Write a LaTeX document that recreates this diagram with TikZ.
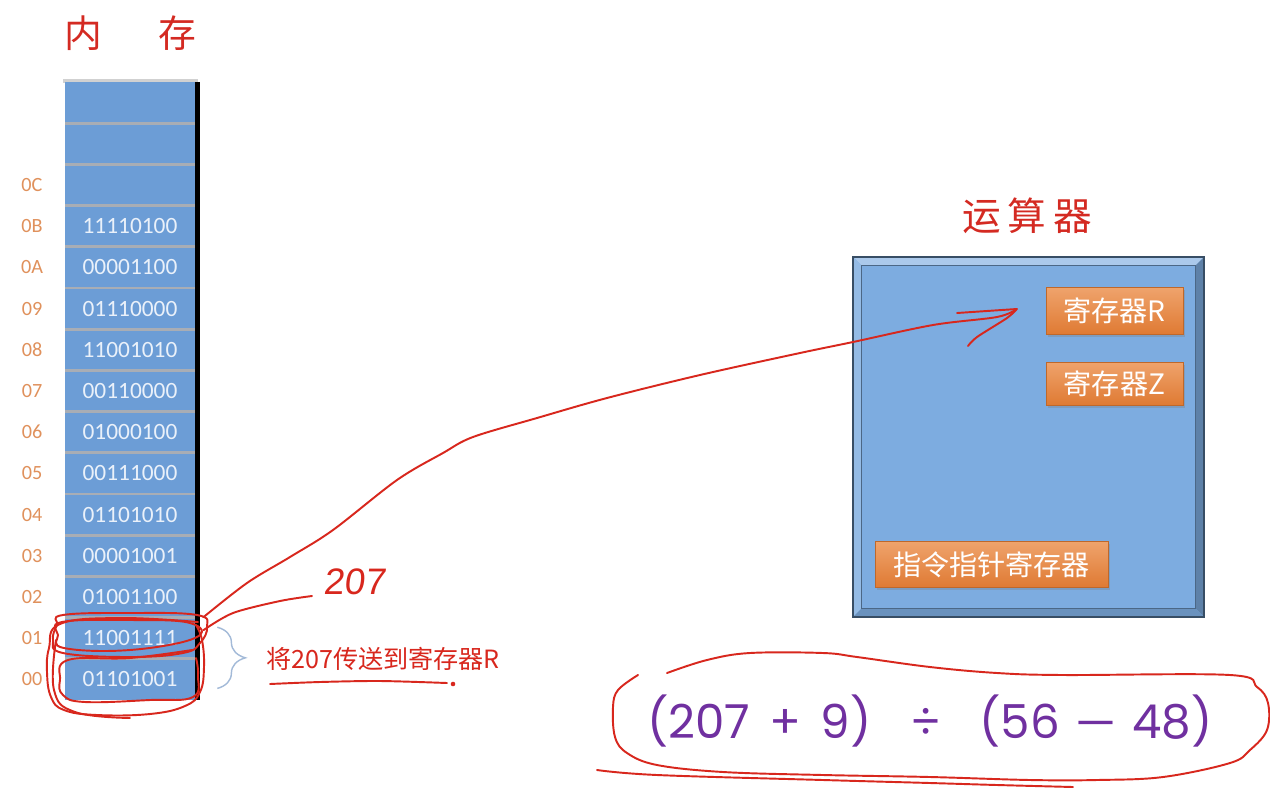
\documentclass[tikz,border=0pt]{standalone}
\usepackage{fontspec}
\setmainfont{Carlito}
\newfontfamily\cjk{Noto Sans CJK SC}
\newfontfamily\cjksp{Noto Sans CJK SC}[LetterSpace=18]
\newfontfamily\formulafont{Poppins}
\newfontfamily\minusfont{Liberation Sans}
\newfontfamily\handfont{Liberation Sans}[FakeSlant=0.12]
\usetikzlibrary{calc,shadows,decorations.pathreplacing}
\definecolor{cellblue}{HTML}{6C9DD6}
\definecolor{celltext}{HTML}{EAF1FA}
\definecolor{alublue}{HTML}{7DACE0}
\definecolor{addrcol}{HTML}{E0915C}
\definecolor{handred}{HTML}{D8271D}
\definecolor{titlered}{HTML}{D42A22}
\definecolor{regtop}{HTML}{EFA36C}
\definecolor{regbot}{HTML}{DF7A33}
\definecolor{formulapurple}{HTML}{7030A0}
\definecolor{bracecol}{HTML}{A3BAD8}
\definecolor{sepgrey}{HTML}{A8ADB5}
\tikzset{
  cellbox/.style={rectangle, fill=cellblue, minimum width=2.6cm, minimum height=0.824cm,
    inner sep=0pt, text=celltext, font=\fontsize{13.3}{14}\selectfont},
  addrlabel/.style={inner sep=0pt, text=addrcol, font=\fontsize{11.5}{12}\selectfont},
  regbox/.style={rectangle, top color=regtop, bottom color=regbot, draw=regbot!85!black,
    line width=0.3pt, drop shadow={opacity=0.35, shadow xshift=1pt, shadow yshift=-1.5pt},
    text=white, font=\cjk\fontsize{16}{18}\selectfont, inner sep=0pt},
  handline/.style={draw=handred, line width=1.1pt, line cap=round, line join=round},
  titletext/.style={text=titlered, inner sep=0pt},
}
\begin{document}
\begin{tikzpicture}[x=0.02cm, y=-0.02cm]
\useasboundingbox (0,0) rectangle (1270,788);
\fill[white] (0,0) rectangle (1270,788);

% ---------- memory ----------
\node[titletext, font=\cjk\fontsize{21.5}{24}\selectfont] (memtitle) at (130,33) {内\hspace{32pt}存};
\fill[black!18] (63,79) rectangle (198,83);
\foreach \r/\v/\a in {0/01101001/00, 1/11001111/01, 2/01001100/02, 3/00001001/03,
  4/01101010/04, 5/00111000/05, 6/01000100/06, 7/00110000/07, 8/11001010/08,
  9/01110000/09, 10/00001100/0A, 11/11110100/0B, 12//0C}{
  \node[cellbox] (m\r) at (130,{700-41.2*(\r+0.5)}) {\v};
  \node[addrlabel] (a\r) at (32,{700-41.2*(\r+0.5)}) {\a};
}
\foreach \r in {13,14}{
  \node[cellbox] (m\r) at (130,{700-41.2*(\r+0.5)}) {};
}
\foreach \k in {1,...,14}{
  \draw[sepgrey, line width=1.6pt] (65,{700-41.2*\k}) -- (195,{700-41.2*\k});
}
\fill[black] (m14.north east) rectangle ($(m0.south east)+(5,0)$);

% ---------- ALU ----------
\node[titletext, font=\cjksp\fontsize{22}{24}\selectfont] (alutitle) at (1027,216) {运算器};
\node[rectangle, fill=alublue, minimum width=7.02cm, minimum height=7.2cm, inner sep=0pt] (alu) at (1028.5,437) {};
\fill[alublue!65!white] (alu.north west) -- (alu.north east) -- ($(alu.north east)+(-9,9)$) -- ($(alu.north west)+(9,9)$) -- cycle;
\fill[alublue!82!white] (alu.north west) -- (alu.south west) -- ($(alu.south west)+(9,-9)$) -- ($(alu.north west)+(9,9)$) -- cycle;
\fill[alublue!75!black] (alu.north east) -- (alu.south east) -- ($(alu.south east)+(-9,-9)$) -- ($(alu.north east)+(-9,9)$) -- cycle;
\fill[alublue!85!black] (alu.south west) -- (alu.south east) -- ($(alu.south east)+(-9,-9)$) -- ($(alu.south west)+(9,-9)$) -- cycle;
\draw[alublue!60!black, line width=0.4pt] ($(alu.north west)+(9,9)$) rectangle ($(alu.south east)+(-9,-9)$);
\draw[alublue!45!black, line width=1pt] (alu.north west) rectangle (alu.south east);

\node[regbox, minimum width=2.74cm, minimum height=0.94cm] (regR) at (1114.5,311) {寄存器R};
\node[regbox, minimum width=2.74cm, minimum height=0.86cm] (regZ) at (1114.5,383.5) {寄存器Z};
\node[regbox, minimum width=4.66cm, minimum height=0.92cm] (ip) at (991.5,564.5) {指令指针寄存器};

% ---------- annotation ----------
\coordinate (bracetop) at ($(m1.east)+(22,-11)$);
\coordinate (bracebot) at ($(m0.east)+(22,9)$);
\draw[bracecol, line width=0.8pt, decorate, decoration={brace, amplitude=16pt}] (bracetop) -- (bracebot);
\node[text=handred, inner sep=0pt, font=\cjk\fontsize{14.3}{16}\selectfont] (note) at (383,659) {将207传送到寄存器R};
\draw[handline] plot[smooth] coordinates {(270,684) (320,682) (380,681) (447,683)};
\fill[handred] (453,684) circle (1.3pt);

% ---------- hand-drawn loops on cells ----------
\draw[handline] plot[smooth cycle, tension=0.7] coordinates {(63,615) (130,613) (197,615) (207,627) (200,643) (183,653) (130,657) (63,653) (53,640) (57,625)};
\draw[handline] plot[smooth cycle, tension=0.7] coordinates {(62,622) (130,620) (190,623) (195,638) (130,650) (64,648) (58,635)};
\draw[handline] plot[smooth, tension=0.7] coordinates {(198,622) (120,618) (60,624) (49,648) (47,672) (51,697) (64,710) (97,715) (150,714) (185,706) (200,692) (204,667) (202,640) (196,625)};
\draw[handline] plot[smooth, tension=0.7] coordinates {(192,650) (130,658) (68,660) (60,680) (63,695) (85,702) (150,700) (193,697) (198,675) (196,658)};
\draw[handline] plot[smooth, tension=0.7] coordinates {(56,640) (54,690) (75,712) (130,718)};

% ---------- arrow to register R ----------
\coordinate (tip) at ($(regR.west)+(-29,-2)$);
\draw[handline] plot[smooth, tension=0.55] coordinates {($(m1.north east)+(8,0)$) (247,583) (290,557) (333,530) (397,480) (443,453) (473,437) (537,418) (607,398) (700,375) (800,353) (853,342) (933,325) (997,317) (tip)};
\draw[handline] (957,313) -- (tip);
\draw[handline] plot[smooth] coordinates {(968,346) (977,337) (1007,318) (tip)};

% ---------- 207 pointer ----------
\draw[handline] plot[smooth] coordinates {($(m1.east)+(8,-8)$) (233,613) (280,601) (312,596)};
\node[text=handred, inner sep=0pt, font=\handfont\fontsize{21}{22}\selectfont] (h207) at (354,582) {207};

% ---------- formula ----------
\node[text=formulapurple, inner sep=0pt, font=\formulafont\fontsize{26.6}{30}\selectfont] (formula) at (930,721)
  {(207\hspace{11pt}+\hspace{11pt}9)\hspace{22pt}÷\hspace{22pt}(56\hspace{9pt}\scalebox{1.5}[1]{\minusfont −}\hspace{9pt}48)};
\draw[handline] plot[smooth, tension=0.6] coordinates {(667,673) (707,660) (750,653) (823,653) (857,657) (930,667) (997,673) (1063,675) (1230,675) (1257,687) (1268,703) (1267,730) (1250,750) (1230,763) (1163,777) (1097,780) (1030,780) (930,777) (823,775) (723,772) (657,765) (627,753) (615,737) (613,707) (618,690) (638,675)};
\draw[handline] plot[smooth, tension=0.6] coordinates {(597,770) (657,775) (823,780) (930,783) (997,785) (1073,787)};
\end{tikzpicture}
\end{document}
